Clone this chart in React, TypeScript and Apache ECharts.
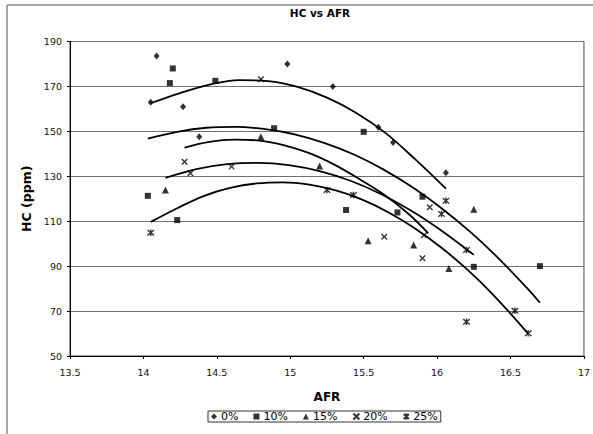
import React, { useEffect, useRef } from "react";
import * as echarts from "echarts";

const TITLE = "HC vs AFR";
const X_NAME = "AFR";
const Y_NAME = "HC (ppm)";
const SERIES_NAMES = ["0%", "10%", "15%", "20%", "25%"];

// Measured points (AFR, HC ppm)
const pts0 = [[14.05, 163], [14.09, 183.5], [14.27, 161], [14.38, 147.6], [14.98, 180], [15.29, 170], [15.6, 151.8], [15.7, 145], [16.06, 131.6]];
const pts10 = [[14.03, 121.3], [14.18, 171.5], [14.2, 178], [14.23, 110.5], [14.49, 172.5], [14.89, 151.4], [15.38, 115], [15.5, 149.8], [15.73, 113.9], [15.9, 120.9], [16.25, 89.7], [16.7, 90]];
const pts15 = [[14.15, 123.9], [14.8, 147.6], [15.2, 134.6], [15.53, 101.3], [15.84, 99.4], [16.08, 89], [16.25, 115.3]];
const pts20 = [[14.28, 136.5], [14.32, 131.3], [14.6, 134.3], [14.8, 173.2], [15.64, 103.1], [15.91, 103.8], [15.95, 116.2], [15.9, 93.5]];
const pts25 = [[14.05, 104.9], [15.25, 123.9], [15.43, 121.7], [16.03, 113.2], [16.06, 119.1], [16.2, 97.2], [16.2, 65.2], [16.53, 70.1], [16.62, 60.1]];

// Trend curves
const trend0 = [[14.05, 162.5], [14.25, 167], [14.45, 170.8], [14.65, 172.8], [14.85, 172.4], [15.05, 169.8], [15.25, 165], [15.45, 158.2], [15.65, 149.2], [15.85, 137.6], [16.06, 124.5]];
const trend10 = [[14.03, 146.8], [14.23, 149.8], [14.43, 151.6], [14.63, 152], [14.83, 151], [15.03, 148.7], [15.23, 144.9], [15.43, 139.8], [15.63, 133.2], [15.83, 125.2], [16.03, 115.8], [16.23, 105], [16.43, 92.7], [16.63, 79], [16.7, 73.7]];
const trend20 = [[14.28, 142.8], [14.45, 145.3], [14.62, 146.3], [14.79, 145.9], [14.96, 143.8], [15.13, 140.3], [15.3, 135.2], [15.47, 128.8], [15.64, 121.8], [15.81, 113], [15.94, 104.6]];
const trend15 = [[14.15, 129.3], [14.36, 133.2], [14.57, 135.4], [14.78, 136], [14.99, 135], [15.2, 132.3], [15.41, 128], [15.62, 122], [15.83, 114.4], [16.04, 105.3], [16.25, 95]];
const trend25 = [[14.05, 109.7], [14.23, 115.8], [14.41, 121.2], [14.59, 124.8], [14.77, 126.8], [14.95, 127.3], [15.13, 126.3], [15.31, 123.7], [15.49, 119.6], [15.67, 113.9], [15.85, 106.8], [16.03, 98.2], [16.21, 88.2], [16.39, 76.7], [16.62, 60]];

const FONT = "DejaVu Sans";

export default function App() {
  const ref = useRef<HTMLDivElement>(null);
  useEffect(() => {
    if (!ref.current) return;
    const chart = echarts.init(ref.current, null, { renderer: "svg" });
    const scatter = (name: string, data: number[][], symbol: string, size: any, stroke = false) => ({
      type: "scatter",
      name,
      data,
      symbol,
      symbolSize: size,
      itemStyle: stroke
        ? { color: "#000", borderColor: "#000", borderWidth: 1.4 }
        : { color: "#000" },
      emphasis: { disabled: true },
      z: 3,
    });
    const trend = (data: number[][]) => ({
      type: "line",
      data,
      smooth: 0.35,
      showSymbol: false,
      silent: true,
      lineStyle: { color: "#000", width: 1.8 },
      emphasis: { disabled: true },
      z: 2,
    });
    chart.setOption({
      animation: false,
      backgroundColor: "#fff",
      graphic: [
        { type: "line", shape: { x1: 7, y1: 5, x2: 7, y2: 440 }, style: { stroke: "#888", lineWidth: 1.5 } },
        { type: "line", shape: { x1: 7, y1: 5, x2: 600, y2: 5 }, style: { stroke: "#888", lineWidth: 1.5 } },
        {
          type: "text",
          x: 320,
          y: 13,
          style: { text: TITLE, align: "center", verticalAlign: "middle", fontFamily: FONT, fontSize: 10.5, fontWeight: "bold", fill: "#000" },
        },
      ],
      grid: { left: 70, right: 8, top: 41.5, bottom: 78, show: true, borderColor: "#444", borderWidth: 1 },
      legend: {
        data: SERIES_NAMES,
        left: 208,
        top: 411,
        orient: "horizontal",
        itemWidth: 6,
        itemHeight: 6,
        itemGap: 15,
        padding: [0, 3],
        borderColor: "#333",
        borderWidth: 1,
        textStyle: { fontFamily: FONT, fontSize: 11, color: "#000", lineHeight: 11, padding: [0, 0, 0, -1] },
      },
      xAxis: {
        type: "value",
        min: 13.5,
        max: 17,
        interval: 0.5,
        name: X_NAME,
        nameLocation: "middle",
        nameGap: 35,
        nameTextStyle: { fontFamily: FONT, fontSize: 12, fontWeight: "bold", color: "#000" },
        splitLine: { show: false },
        axisLine: { lineStyle: { color: "#000", width: 1 } },
        axisTick: { show: true, length: 3, lineStyle: { color: "#000" } },
        axisLabel: { fontFamily: FONT, fontSize: 9.5, color: "#111", margin: 11 },
      },
      yAxis: {
        type: "value",
        min: 50,
        max: 190,
        interval: 20,
        name: Y_NAME,
        nameLocation: "middle",
        nameGap: 34,
        nameRotate: 90,
        nameTextStyle: { fontFamily: FONT, fontSize: 12.5, fontWeight: "bold", color: "#000" },
        splitLine: { show: true, lineStyle: { color: "#707070", width: 1.2 } },
        axisLine: { show: true, lineStyle: { color: "#000", width: 1 } },
        axisTick: { show: true, length: 3, lineStyle: { color: "#000" } },
        axisLabel: { fontFamily: FONT, fontSize: 9.5, color: "#111", margin: 8 },
      },
      series: [
        trend(trend0),
        trend(trend10),
        trend(trend20),
        trend(trend15),
        trend(trend25),
        scatter("0%", pts0, "diamond", [6, 7]),
        scatter("10%", pts10, "rect", 6),
        scatter("15%", pts15, "triangle", 7),
        scatter("20%", pts20, "path://M0,0L10,10M10,0L0,10", 5.5, true),
        scatter("25%", pts25, "path://M0,0L10,10M10,0L0,10M5,-1L5,11", 6.5, true),
      ],
    });
    return () => chart.dispose();
  }, []);
  return (
    <div
      ref={ref}
      style={{ position: "absolute", left: 0, top: 0, width: 593, height: 434, background: "#fff" }}
    />
  );
}
